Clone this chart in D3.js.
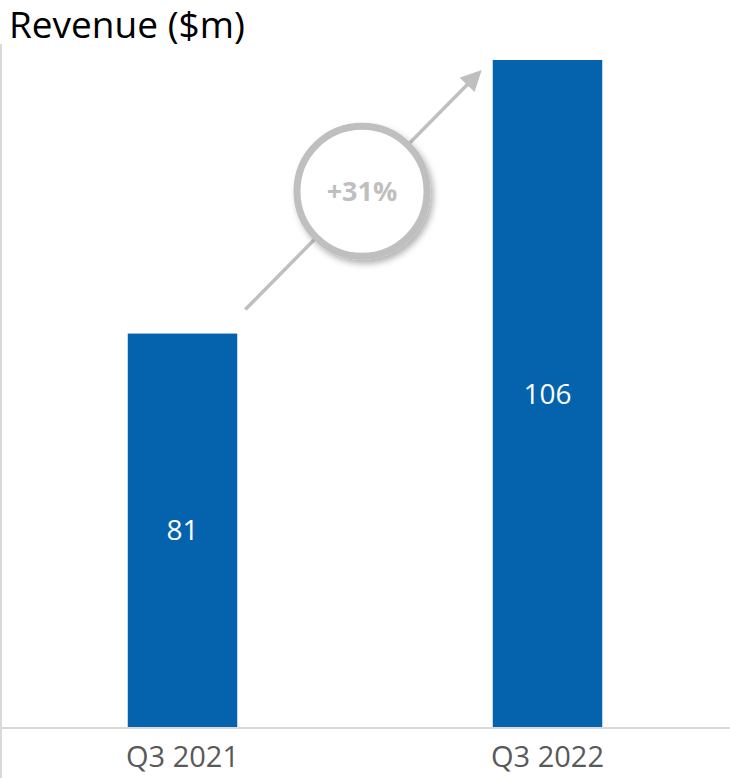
<!DOCTYPE html>
<html lang="en">
<head>
	<meta charset="UTF-8">
	<title>Revenue ($m)</title>
	<script src="https://cdn.jsdelivr.net/npm/d3@7"></script>
	<style>
		body {
			margin: 0;
			font-family: "Open Sans";
			background: #fff;
		}
		svg text {
			font-family: "Open Sans";
		}
	</style>
</head>
<body>
<div id="viz"></div>
<script type="text/javascript">
	// chart data
	const categories = ['Q3 2021', 'Q3 2022'];
	const revenue = [81, 106];
	const growthLabel = '+31%';
	const title = 'Revenue ($m)';

	window.onload = () => {
		const width = 730, height = 778;
		const baseY = 727.5;

		const svg = d3.select('#viz')
			.append('svg')
			.attr('width', width)
			.attr('height', height);

		// soft shadow for the growth bubble
		const defs = svg.append('defs');
		const f = defs.append('filter')
			.attr('id', 'shadow')
			.attr('x', '-30%').attr('y', '-30%')
			.attr('width', '160%').attr('height', '160%');
		f.append('feDropShadow')
			.attr('dx', 3).attr('dy', 4)
			.attr('stdDeviation', 3)
			.attr('flood-color', '#000')
			.attr('flood-opacity', 0.3);

		defs.append('marker')
			.attr('id', 'arrow')
			.attr('viewBox', '0 0 10 10')
			.attr('refX', 8).attr('refY', 5)
			.attr('markerWidth', 6).attr('markerHeight', 6)
			.attr('markerUnits', 'strokeWidth')
			.attr('orient', 'auto')
			.append('path')
			.attr('d', 'M0,0 L10,5 L0,10 Z')
			.attr('fill', '#bfbfbf');

		let x = d3.scaleBand()
			.domain(categories)
			.range([0, width])
			.paddingInner(0.7)
			.paddingOuter(0.35);

		// value axis does not start at zero in the original
		let y = d3.scaleLinear()
			.domain([45, 106])
			.range([baseY, 60]);

		// left axis line
		svg.append('line')
			.attr('x1', 1).attr('x2', 1)
			.attr('y1', 44).attr('y2', height)
			.attr('stroke', '#d9d9d9')
			.attr('stroke-width', 2);

		// title
		svg.append('text')
			.attr('x', 9)
			.attr('y', 38)
			.attr('font-size', 37)
			.attr('fill', '#000')
			.text(title);

		// bars
		svg.selectAll('.bar')
			.data(revenue)
			.enter().append('rect')
			.attr('class', 'bar')
			.attr('x', (d, i) => x(categories[i]))
			.attr('width', x.bandwidth())
			.attr('y', (d) => y(d))
			.attr('height', (d) => baseY - y(d))
			.attr('fill', '#0563ad');

		// value labels
		svg.selectAll('.val')
			.data(revenue)
			.enter().append('text')
			.attr('class', 'val')
			.attr('x', (d, i) => x(categories[i]) + x.bandwidth() / 2)
			.attr('y', (d) => (y(d) + baseY) / 2)
			.attr('dy', '0.35em')
			.attr('text-anchor', 'middle')
			.attr('font-size', 28)
			.attr('fill', '#fff')
			.text((d) => d);

		// category axis
		let xAxis = d3.axisBottom(x).tickSize(0).tickPadding(19);
		let gx = svg.append('g')
			.attr('transform', 'translate(0,' + baseY + ')')
			.call(xAxis);
		gx.select('.domain')
			.attr('stroke', '#d9d9d9')
			.attr('stroke-width', 2);
		gx.selectAll('text')
			.attr('font-size', 29)
			.attr('font-family', 'Open Sans')
			.attr('fill', '#595959');

		// growth arrow between the bar tops
		const x0 = x(categories[0]) + x.bandwidth() + 8,
			y0 = y(revenue[0]) - 24,
			x1 = x(categories[1]) - 14,
			y1 = y(revenue[1]) + 13;

		svg.append('line')
			.attr('x1', x0).attr('y1', y0)
			.attr('x2', x1).attr('y2', y1)
			.attr('stroke', '#bfbfbf')
			.attr('stroke-width', 3.5)
			.attr('marker-end', 'url(#arrow)');

		const cx = (x0 + x1) / 2, cy = (y0 + y1) / 2;
		svg.append('circle')
			.attr('cx', cx).attr('cy', cy)
			.attr('r', 65)
			.attr('fill', '#fff')
			.attr('stroke', '#bfbfbf')
			.attr('stroke-width', 7)
			.attr('filter', 'url(#shadow)');

		svg.append('text')
			.attr('x', cx)
			.attr('y', cy)
			.attr('dy', '0.35em')
			.attr('text-anchor', 'middle')
			.attr('font-size', 27)
			.attr('font-weight', 'bold')
			.attr('fill', '#bfbfbf')
			.text(growthLabel);
	};
</script>
</body>
</html>
